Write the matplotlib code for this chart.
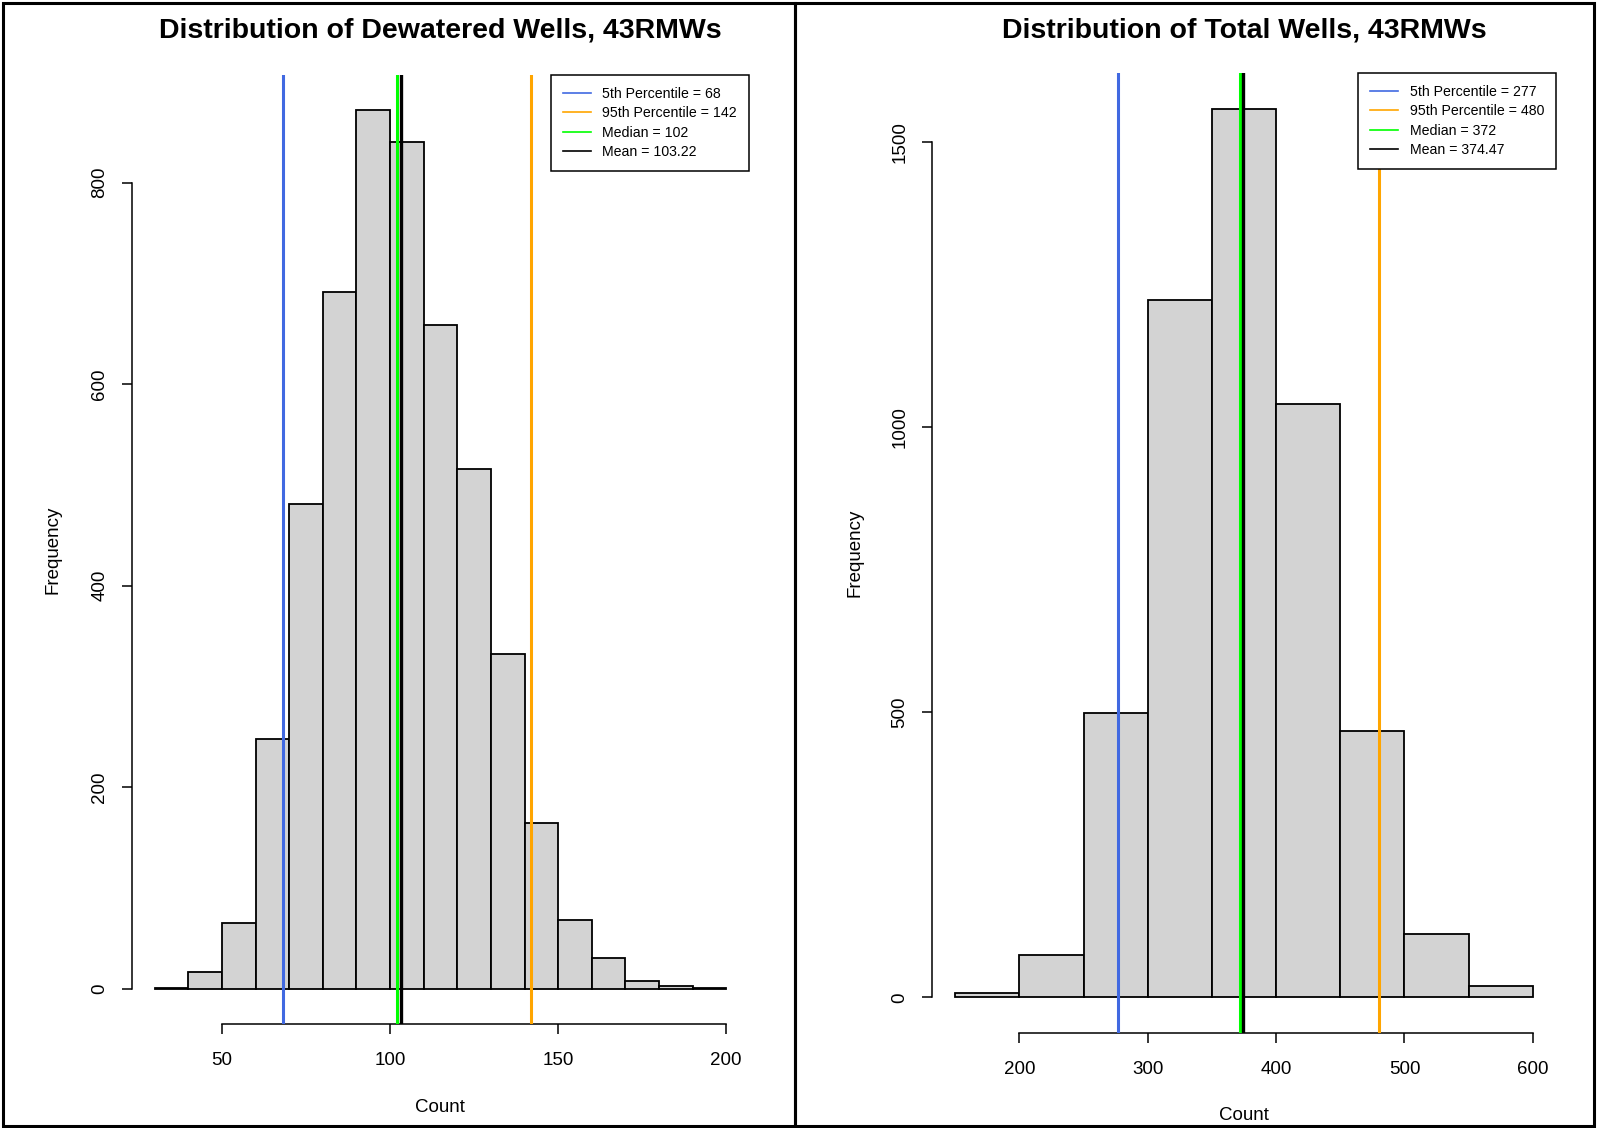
import numpy as np
import matplotlib
matplotlib.use("Agg")
import matplotlib.pyplot as plt
from matplotlib.patches import Rectangle

plt.rcParams['font.family'] = ['Liberation Sans', 'DejaVu Sans']

# left panel: dewatered wells
dew_edges = [30, 40, 50, 60, 70, 80, 90, 100, 110, 120, 130, 140, 150, 160, 170, 180, 190, 200]
dew_counts = [1, 17, 65, 248, 481, 692, 872, 840, 659, 516, 332, 165, 68, 31, 8, 3, 1]
dew_stats = [68, 142, 102, 103.22]

# right panel: total wells
tot_edges = [150, 200, 250, 300, 350, 400, 450, 500, 550, 600]
tot_counts = [7, 75, 499, 1224, 1559, 1040, 467, 111, 20]
tot_stats = [277, 480, 372, 374.47]

stat_names = ["5th Percentile", "95th Percentile", "Median", "Mean"]
stat_colors = ["#4169E1", "#FFA500", "#00FF00", "#000000"]

W, H = 1597, 1128
fig = plt.figure(figsize=(W / 100, H / 100), dpi=100)


def box(x0, x1, y0, y1):
    return [x0 / W, 1 - y1 / H, (x1 - x0) / W, (y1 - y0) / H]


def draw_hist(ax, edges, counts, stats, xticks, yticks):
    edges = np.array(edges)
    ax.bar(edges[:-1], counts, width=np.diff(edges), align='edge',
           color='#D3D3D3', edgecolor='black', linewidth=1.3, zorder=2)
    xr = edges[-1] - edges[0]
    ax.set_xlim(edges[0] - 0.04 * xr, edges[-1] + 0.04 * xr)
    ymax = max(counts)
    ax.set_ylim(-0.04 * ymax, 1.04 * ymax)
    for s, name, c in zip(stats, stat_names, stat_colors):
        lw = 2.4 if c == "#000000" else 2.2
        ax.axvline(s, color=c, lw=lw, zorder=3, label=f"{name} = {s:g}")
    for sp in ['top', 'right']:
        ax.spines[sp].set_visible(False)
    ax.spines['left'].set_bounds(yticks[0], yticks[-1])
    ax.spines['bottom'].set_bounds(xticks[0], xticks[-1])
    ax.spines['left'].set_linewidth(1.1)
    ax.spines['bottom'].set_linewidth(1.1)
    ax.set_xticks(xticks)
    ax.set_yticks(yticks)
    ax.tick_params(length=7, width=1.1, labelsize=13.5)
    ax.tick_params(axis='x', pad=13)
    ax.tick_params(axis='y', pad=10)
    for lab in ax.get_yticklabels():
        lab.set_rotation(90)
        lab.set_va('center')
    leg = ax.legend(loc='upper right', borderaxespad=0, fancybox=False,
                    edgecolor='black', framealpha=1, fontsize=10.2,
                    handlelength=2.0, labelspacing=0.37, borderpad=0.85,
                    handletextpad=0.8)
    leg.get_frame().set_linewidth(1.1)
    for ln in leg.get_lines():
        ln.set_linewidth(1.2)


ax1 = fig.add_axes(box(132, 749, 75, 1024))
draw_hist(ax1, dew_edges, dew_counts, dew_stats, [50, 100, 150, 200],
          [0, 200, 400, 600, 800])
ax2 = fig.add_axes(box(932, 1556, 73, 1033))
draw_hist(ax2, tot_edges, tot_counts, tot_stats, [200, 300, 400, 500, 600],
          [0, 500, 1000, 1500])

fig.text(440 / W, 1 - 31 / H, "Distribution of Dewatered Wells, 43RMWs",
         ha='center', va='center', fontsize=20.5, fontweight='bold')
fig.text(1244 / W, 1 - 31 / H, "Distribution of Total Wells, 43RMWs",
         ha='center', va='center', fontsize=20.5, fontweight='bold')
fig.text(53 / W, 1 - 550 / H, "Frequency", rotation=90, ha='center', va='center', fontsize=13.5)
fig.text(855 / W, 1 - 553 / H, "Frequency", rotation=90, ha='center', va='center', fontsize=13.5)
fig.text(440 / W, 1 - 1107 / H, "Count", ha='center', va='center', fontsize=13.5)
fig.text(1244 / W, 1 - 1115 / H, "Count", ha='center', va='center', fontsize=13.5)

# panel frames
for x0, x1 in [(3, 795), (795, 1594)]:
    fig.add_artist(Rectangle((x0 / W, 1 - 1126 / H), (x1 - x0) / W, 1123 / H,
                             transform=fig.transFigure, fill=False,
                             edgecolor='black', linewidth=2.2))

fig.savefig("out.png", dpi=100)
